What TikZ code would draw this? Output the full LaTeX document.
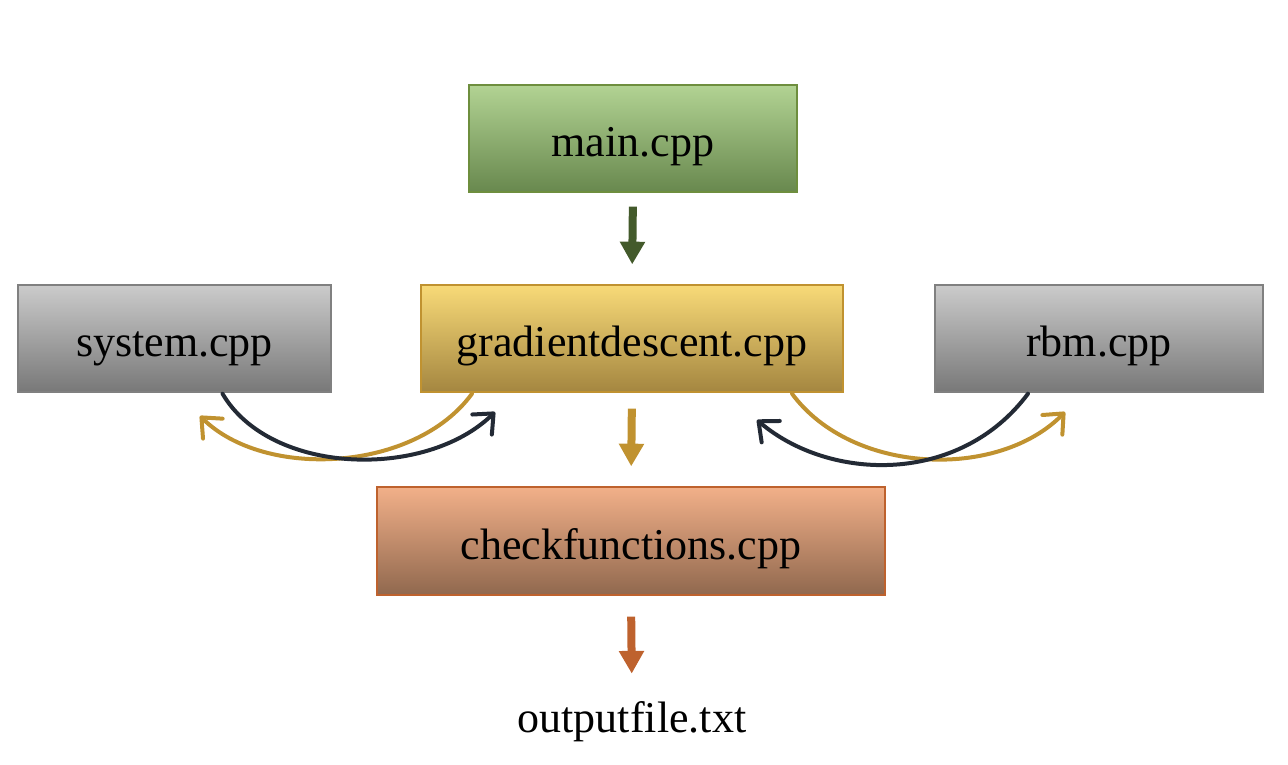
\documentclass[tikz,border=0pt]{standalone}
\usepackage{fontspec}
\setmainfont{Liberation Serif}
\usetikzlibrary{arrows.meta,calc}

\definecolor{mainTop}{RGB}{178,211,147}
\definecolor{mainMid}{RGB}{150,184,120}
\definecolor{mainBot}{RGB}{104,136,78}
\definecolor{mainLine}{RGB}{110,142,62}
\definecolor{grayTop}{RGB}{203,203,203}
\definecolor{grayMid}{RGB}{172,172,172}
\definecolor{grayBot}{RGB}{120,120,120}
\definecolor{grayLine}{RGB}{128,128,128}
\definecolor{goldTop}{RGB}{248,218,120}
\definecolor{goldMid}{RGB}{228,192,98}
\definecolor{goldBot}{RGB}{164,134,64}
\definecolor{goldLine}{RGB}{192,146,48}
\definecolor{orngTop}{RGB}{242,176,137}
\definecolor{orngMid}{RGB}{214,158,118}
\definecolor{orngBot}{RGB}{144,104,78}
\definecolor{orngLine}{RGB}{190,98,46}
\definecolor{greenArrow}{RGB}{67,90,43}
\definecolor{darkCurve}{RGB}{35,42,53}

\begin{document}
\begin{tikzpicture}[x=0.75pt,y=0.75pt,yscale=-1,xscale=1,
  filebox/.style={draw, line width=1pt, inner sep=0pt, minimum height=80.25pt,
    text height=27pt, text depth=0pt, font=\fontsize{33}{40}\selectfont},
  blockarrow/.style={line width=6pt, -{Triangle[width=18pt,length=17pt]}},
  swaparrow/.style={line width=3pt, line cap=round,
    -{Straight Barb[round,length=12pt,width=21pt]}}]
\useasboundingbox (0,0) rectangle (1288,764);

% file boxes
\node [filebox, minimum width=246pt, draw=mainLine, top color=mainTop, middle color=mainMid, bottom color=mainBot] (main) at (633,138.5) {main.cpp};
\node [filebox, minimum width=234.75pt, draw=grayLine, top color=grayTop, middle color=grayMid, bottom color=grayBot] (system) at (174.5,338.5) {system.cpp};
\node [filebox, minimum width=316.5pt, draw=goldLine, top color=goldTop, middle color=goldMid, bottom color=goldBot] (grad) at (632,338.5) {gradientdescent.cpp};
\node [filebox, minimum width=246pt, draw=grayLine, top color=grayTop, middle color=grayMid, bottom color=grayBot] (rbm) at (1099,338.5) {rbm.cpp};
\node [filebox, minimum width=381pt, minimum height=81pt, draw=orngLine, top color=orngTop, middle color=orngMid, bottom color=orngBot] (check) at (631,541) {checkfunctions.cpp};
% output text
\node [inner sep=0pt, font=\fontsize{33}{40}\selectfont] (output) at (632,722) {outputfile.txt};

% straight arrows
\draw [blockarrow, greenArrow, shorten <=10.5pt, shorten >=15pt] (main.south) -- (grad.north);
\draw [blockarrow, goldLine, shorten <=12pt, shorten >=15pt] (grad.south) -- (check.north);
\draw [blockarrow, orngLine, shorten <=15.75pt, shorten >=21pt] (check.south) -- (output.north);

% free ends of the curved arrows
\coordinate (gradL) at (495,412);
\coordinate (sysL) at (200,416);
\coordinate (rbmR) at (1065,412);
\coordinate (gradR) at (757,420);

% curved arrows
\draw [swaparrow, goldLine] ($(grad.south)+(-160,1)$) .. controls (415,472) and (265,480) .. (sysL);
\draw [swaparrow, darkCurve] ($(system.south)+(48,1)$) .. controls (270,475) and (425,480) .. (gradL);
\draw [swaparrow, goldLine] ($(grad.south)+(160,1)$) .. controls (852,475) and (998,480) .. (rbmR);
\draw [swaparrow, darkCurve] ($(rbm.south)+(-71,1)$) .. controls (960,485) and (830,482) .. (gradR);

\end{tikzpicture}
\end{document}
